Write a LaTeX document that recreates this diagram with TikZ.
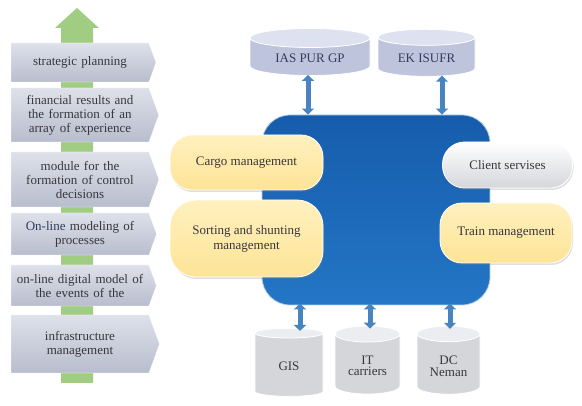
\documentclass[tikz,border=0pt]{standalone}
\usepackage{fontspec}
\setmainfont{Liberation Serif}
\definecolor{chevtop}{RGB}{222,225,234}
\definecolor{chevbot}{RGB}{184,189,205}
\definecolor{inkgray}{RGB}{55,55,60}
\definecolor{inkblue}{RGB}{50,60,95}
\definecolor{leaf}{RGB}{160,205,130}
\definecolor{coreblue}{RGB}{36,118,198}
\definecolor{coredark}{RGB}{22,92,172}
\definecolor{pipe}{RGB}{72,132,192}
\definecolor{cream}{RGB}{253,228,150}
\definecolor{creamtop}{RGB}{255,240,190}
\definecolor{lav}{RGB}{190,196,220}
\definecolor{lavtop}{RGB}{222,225,240}
\definecolor{drum}{RGB}{212,214,218}
\definecolor{drumtop}{RGB}{236,237,240}
\usetikzlibrary{arrows.meta, positioning, shapes.geometric, shapes.symbols, shadows}

\begin{document}
\begin{tikzpicture}[x=1pt, y=-1pt,
  stage/.style={signal, signal to=east, signal pointer angle=140,
                top color=chevtop, bottom color=chevbot, draw=white,
                minimum width=144, inner sep=2pt, text width=134,
                align=center, text=inkgray,
                font=\fontsize{13}{14}\selectfont},
  pill/.style={rectangle, rounded corners=22, draw=white, thick,
               top color=creamtop, bottom color=cream,
               drop shadow={opacity=0.25, shadow xshift=1pt, shadow yshift=-2pt},
               align=center, text=inkgray,
               font=\fontsize{13}{15}\selectfont},
  base/.style={cylinder, shape border rotate=90, aspect=0.35,
               cylinder uses custom fill, draw=white, thick,
               align=center, font=\fontsize{13}{15}\selectfont},
  dbl/.style={{Triangle[width=12pt,length=6pt]}-{Triangle[width=12pt,length=6pt]},
              line width=5pt, draw=pipe},
]
\useasboundingbox (0,0) rectangle (582,406);

% green arrow behind the stages
\fill[leaf] (61,383) -- (61,28) -- (55,28) -- (77,8) -- (99,28) -- (93,28)
  -- (93,383) -- cycle;

\node[stage, minimum height=39] (plan) at (80,62.5) {strategic planning};
\node[stage, minimum height=54] (fin) at (80,115)
  {financial results and\\the formation of an\\array of experience};
\node[stage, minimum height=55] (module) at (80,179.5)
  {module for the\\formation of control\\decisions};
\node[stage, minimum height=42] (online) at (80,234)
  {\textcolor{inkblue}{On-line} modeling of\\processes};
\node[stage, minimum height=41] (digital) at (80,285.5)
  {on-line digital model of\\the events of the};
\node[stage, minimum height=58] (infra) at (80,344)
  {infrastructure\\management};

% central block
\node[rectangle, rounded corners=28, draw=pipe!40, thick,
      top color=coredark, bottom color=coreblue,
      minimum width=228, minimum height=190] (core) at (376,210) {};

\node[pill, minimum width=153, minimum height=55] (cargo) at (246.5,162.5)
  {Cargo management};
\node[pill, minimum width=153, minimum height=77, rounded corners=26] (sorting)
  at (246.5,238.5) {Sorting and shunting\\management};
\node[pill, minimum width=130, minimum height=46, top color=white,
      bottom color=drum] (client) at (507.5,165) {Client servises};
\node[pill, minimum width=132, minimum height=60] (train) at (506,233)
  {Train management};

% databases
\node[base, cylinder body fill=lav, cylinder end fill=lavtop, text=inkblue,
      minimum width=120, minimum height=47, aspect=0.25] (ias) at (310,58.5)
  {IAS PUR GP};
\node[base, cylinder body fill=lav, cylinder end fill=lavtop, text=inkblue,
      minimum width=97, minimum height=47, aspect=0.25] (ek) at (426.5,58.5)
  {EK ISUFR};
\node[base, cylinder body fill=drum, cylinder end fill=drumtop, text=inkgray,
      minimum width=68, minimum height=68] (gis) at (289,366)
  {\raisebox{-6pt}{GIS}};
\node[base, cylinder body fill=drum, cylinder end fill=drumtop, text=inkgray,
      minimum width=65, minimum height=68] (it) at (367.5,366)
  {\raisebox{-6pt}{\shortstack{IT\\carriers}}};
\node[base, cylinder body fill=drum, cylinder end fill=drumtop, text=inkgray,
      minimum width=63, minimum height=68] (dc) at (448.5,366)
  {\raisebox{-6pt}{\shortstack{DC\\Neman}}};

\draw[dbl] ([xshift=-2,yshift=1]ias.south) -- ([xshift=-2]ias.south |- core.north);
\draw[dbl] ([xshift=15.5,yshift=1]ek.south) -- ([xshift=15.5]ek.south |- core.north);
\draw[dbl] ([xshift=11,yshift=2]gis.north |- core.south)
  -- ([xshift=11,yshift=-3]gis.north);
\draw[dbl] ([xshift=2.5,yshift=2]it.north |- core.south)
  -- ([xshift=2.5,yshift=-3]it.north);
\draw[dbl] ([xshift=1.5,yshift=2]dc.north |- core.south)
  -- ([xshift=1.5,yshift=-3]dc.north);
\end{tikzpicture}
\end{document}
